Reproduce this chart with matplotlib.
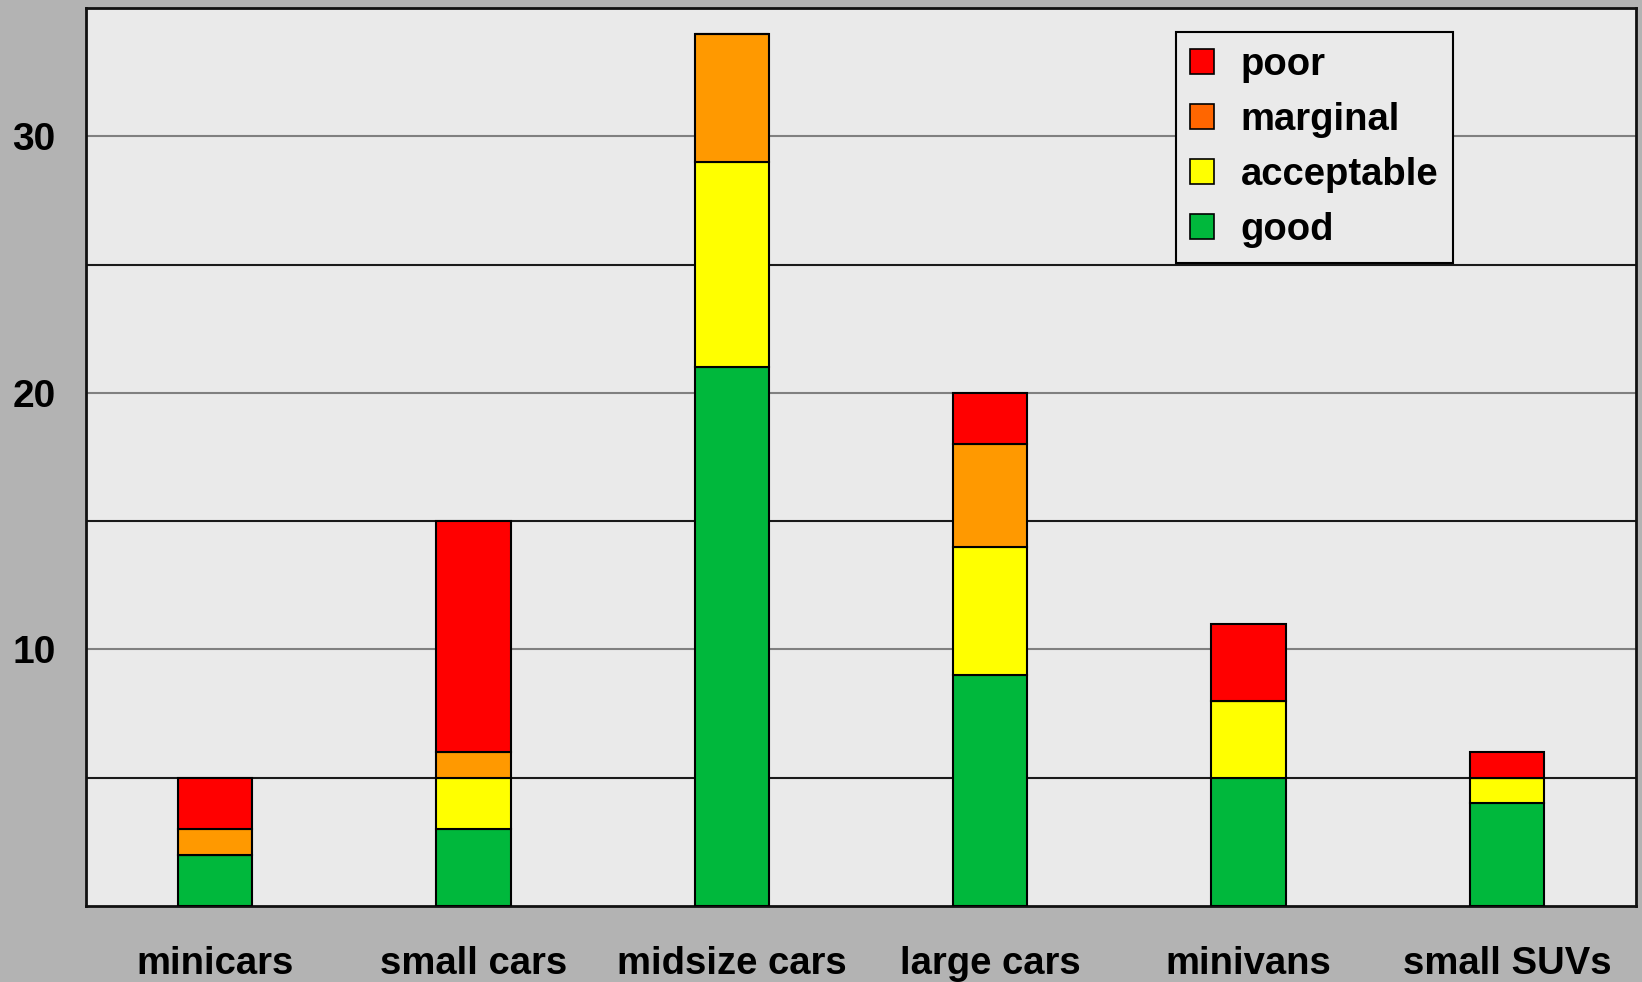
import numpy as np
import matplotlib
matplotlib.use("Agg")
import matplotlib.pyplot as plt
from matplotlib.patches import Patch

plt.rcParams['font.family'] = ['Liberation Sans', 'DejaVu Sans']
plt.rcParams['font.weight'] = 'bold'

categories = ['minicars', 'small cars', 'midsize cars', 'large cars', 'minivans', 'small SUVs']
good = [2, 3, 21, 9, 5, 4]
acceptable = [0, 2, 8, 5, 3, 1]
marginal = [1, 1, 5, 4, 0, 0]
poor = [2, 9, 0, 2, 3, 1]

ratings = ['good', 'acceptable', 'marginal', 'poor']
bar_colors = ['#00B83C', '#FFFF00', '#FF9900', '#FF0000']
legend_colors = {'poor': '#FF0000', 'marginal': '#FF6600',
                 'acceptable': '#FFFF00', 'good': '#00B83C'}

fig = plt.figure(figsize=(16.42, 9.82), dpi=100, facecolor='#B3B3B3')
ax = fig.add_axes([86 / 1642, 1 - 906 / 982, 1550 / 1642, 898 / 982])
ax.set_facecolor('#EAEAEA')

x = np.arange(len(categories))
bottom = np.zeros(len(categories))
for name, vals, col in zip(ratings, [good, acceptable, marginal, poor], bar_colors):
    vals = np.array(vals, dtype=float)
    ax.bar(x, vals, width=0.287, bottom=bottom, color=col, edgecolor='black',
           linewidth=1.5, zorder=3)
    bottom += vals

ax.set_xlim(-0.5, 5.5)
ax.set_ylim(0, 35)

# gray lines at the labelled values, black lines halfway between
for y in [10, 20, 30]:
    ax.axhline(y, color='#808080', linewidth=1.5, zorder=1)
for y in [5, 15, 25]:
    ax.axhline(y, color='#1a1a1a', linewidth=1.5, zorder=1)

ax.set_yticks([10, 20, 30])
ax.set_yticklabels(['10', '20', '30'])
ax.set_xticks(x)
ax.set_xticklabels(categories)
ax.tick_params(axis='y', length=0, pad=22, labelsize=28)
ax.tick_params(axis='x', length=0, pad=29, labelsize=27.5)

for s in ax.spines.values():
    s.set_linewidth(2)
    s.set_color('#111111')

handles = [Patch(facecolor=legend_colors[n], edgecolor='black', linewidth=1.2, label=n)
           for n in ['poor', 'marginal', 'acceptable', 'good']]
leg = ax.legend(handles=handles, loc='upper left', bbox_to_anchor=(0.703, 0.973),
                fontsize=27.5, frameon=True, fancybox=False, framealpha=1,
                handlelength=0.62, handleheight=0.62, handletextpad=0.7,
                labelspacing=0.5, borderpad=0.38, borderaxespad=0)
leg.get_frame().set_facecolor('#EAEAEA')
leg.get_frame().set_edgecolor('black')
leg.get_frame().set_linewidth(1.5)

fig.savefig('out.png', dpi=100, facecolor=fig.get_facecolor())
